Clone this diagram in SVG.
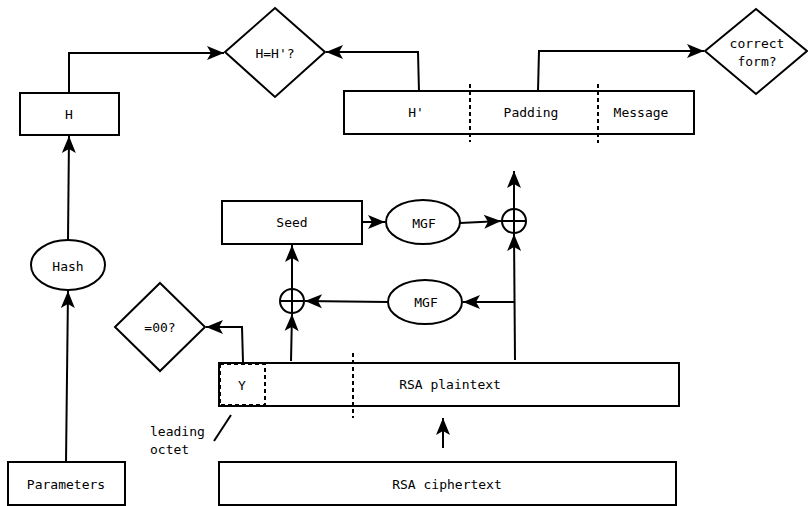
<svg xmlns="http://www.w3.org/2000/svg" width="808" height="506" viewBox="0 0 808 506">
<style>
.s{fill:#fff;stroke:#000;stroke-width:2}
.c{fill:none;stroke:#000;stroke-width:2}
.d{fill:none;stroke:#000;stroke-width:2;stroke-dasharray:4,3}
text{font-family:"DejaVu Sans Mono",monospace;font-size:13px;fill:#000}
.m{text-anchor:middle;dominant-baseline:central}
</style>
<defs>
<marker id="a" markerUnits="userSpaceOnUse" markerWidth="20" markerHeight="16" viewBox="-18 -8 20 16" refX="0" refY="0" orient="auto">
<path d="M0,0 L-17,-7 L-13,0 L-17,7 Z" fill="#000"/>
</marker>
</defs>
<rect width="808" height="506" fill="#fff"/>
<g id="connectors">
<path class="c" d="M69,93 V53 H224" marker-end="url(#a)"/>
<path class="c" d="M419,92 L418,52 H326" marker-end="url(#a)"/>
<path class="c" d="M538,91 L539,51 H704" marker-end="url(#a)"/>
<path class="c" d="M68,240 L69,136" marker-end="url(#a)"/>
<path class="c" d="M66,462 L68,291" marker-end="url(#a)"/>
<path class="c" d="M362,222 H385" marker-end="url(#a)"/>
<path class="c" d="M460,223 L501,221" marker-end="url(#a)"/>
<path class="c" d="M514,209 V171" marker-end="url(#a)"/>
<path class="c" d="M515,360 L514,234" marker-end="url(#a)"/>
<path class="c" d="M514,302 H463" marker-end="url(#a)"/>
<path class="c" d="M388,302 L305,301" marker-end="url(#a)"/>
<path class="c" d="M291,361 L292,314" marker-end="url(#a)"/>
<path class="c" d="M292,289 V245" marker-end="url(#a)"/>
<path class="c" d="M243,362 L242,327 H206" marker-end="url(#a)"/>
<path class="c" d="M443,448 V418" marker-end="url(#a)"/>
<path class="c" d="M214,441 L231,415"/>
</g>
<g id="H"><rect class="s" x="20" y="93" width="99" height="42"/><text class="m" x="69" y="114">H</text></g>
<g id="compare"><path class="s" d="M275,8 L325,52 L275,97 L225,52 Z"/><text class="m" x="275" y="53">H=H'?</text></g>
<g id="dataBlock">
<rect class="s" x="344" y="91" width="350" height="43"/>
<line class="d" x1="470" y1="84" x2="470" y2="142"/>
<line class="d" x1="598" y1="84" x2="598" y2="143"/>
<text class="m" x="416" y="112">H'</text>
<text class="m" x="531" y="112">Padding</text>
<text class="m" x="641" y="112">Message</text>
</g>
<g id="correctForm"><path class="s" d="M756,9 L807,51 L756,94 L705,51 Z"/><text class="m" x="757" y="43">correct</text><text class="m" x="757" y="61">form?</text></g>
<g id="Hash"><ellipse class="s" cx="68" cy="265" rx="37" ry="25"/><text class="m" x="68" y="266">Hash</text></g>
<g id="Parameters"><rect class="s" x="8" y="462" width="117" height="43"/><text class="m" x="66" y="484">Parameters</text></g>
<g id="Seed"><rect class="s" x="222" y="201" width="140" height="43"/><text class="m" x="292" y="222">Seed</text></g>
<g id="MGF1"><ellipse class="s" cx="423" cy="222" rx="37" ry="22"/><text class="m" x="424" y="223">MGF</text></g>
<g id="xor1"><circle class="s" cx="514" cy="221" r="12"/><path class="c" d="M502,221 H526 M514,209 V233"/></g>
<g id="MGF2"><ellipse class="s" cx="425" cy="302" rx="37" ry="22"/><text class="m" x="426" y="302">MGF</text></g>
<g id="xor2"><circle class="s" cx="292" cy="301" r="12"/><path class="c" d="M280,301 H304 M292,289 V313"/></g>
<g id="zeroCheck"><path class="s" d="M160,283 L205,327 L160,371 L115,327 Z"/><text class="m" x="160" y="327">=00?</text></g>
<g id="plaintext">
<rect class="s" x="219" y="363" width="460" height="43"/>
<rect class="d" x="220" y="364" width="45" height="41" fill="#fff"/>
<line class="d" x1="353" y1="353" x2="353" y2="418"/>
<text class="m" x="242" y="385">Y</text>
<text class="m" x="450" y="384">RSA plaintext</text>
</g>
<g id="leadingOctet"><text x="150" y="436">leading</text><text x="150" y="454">octet</text></g>
<g id="ciphertext"><rect class="s" x="219" y="462" width="457" height="43"/><text class="m" x="447" y="484">RSA ciphertext</text></g>
</svg>
